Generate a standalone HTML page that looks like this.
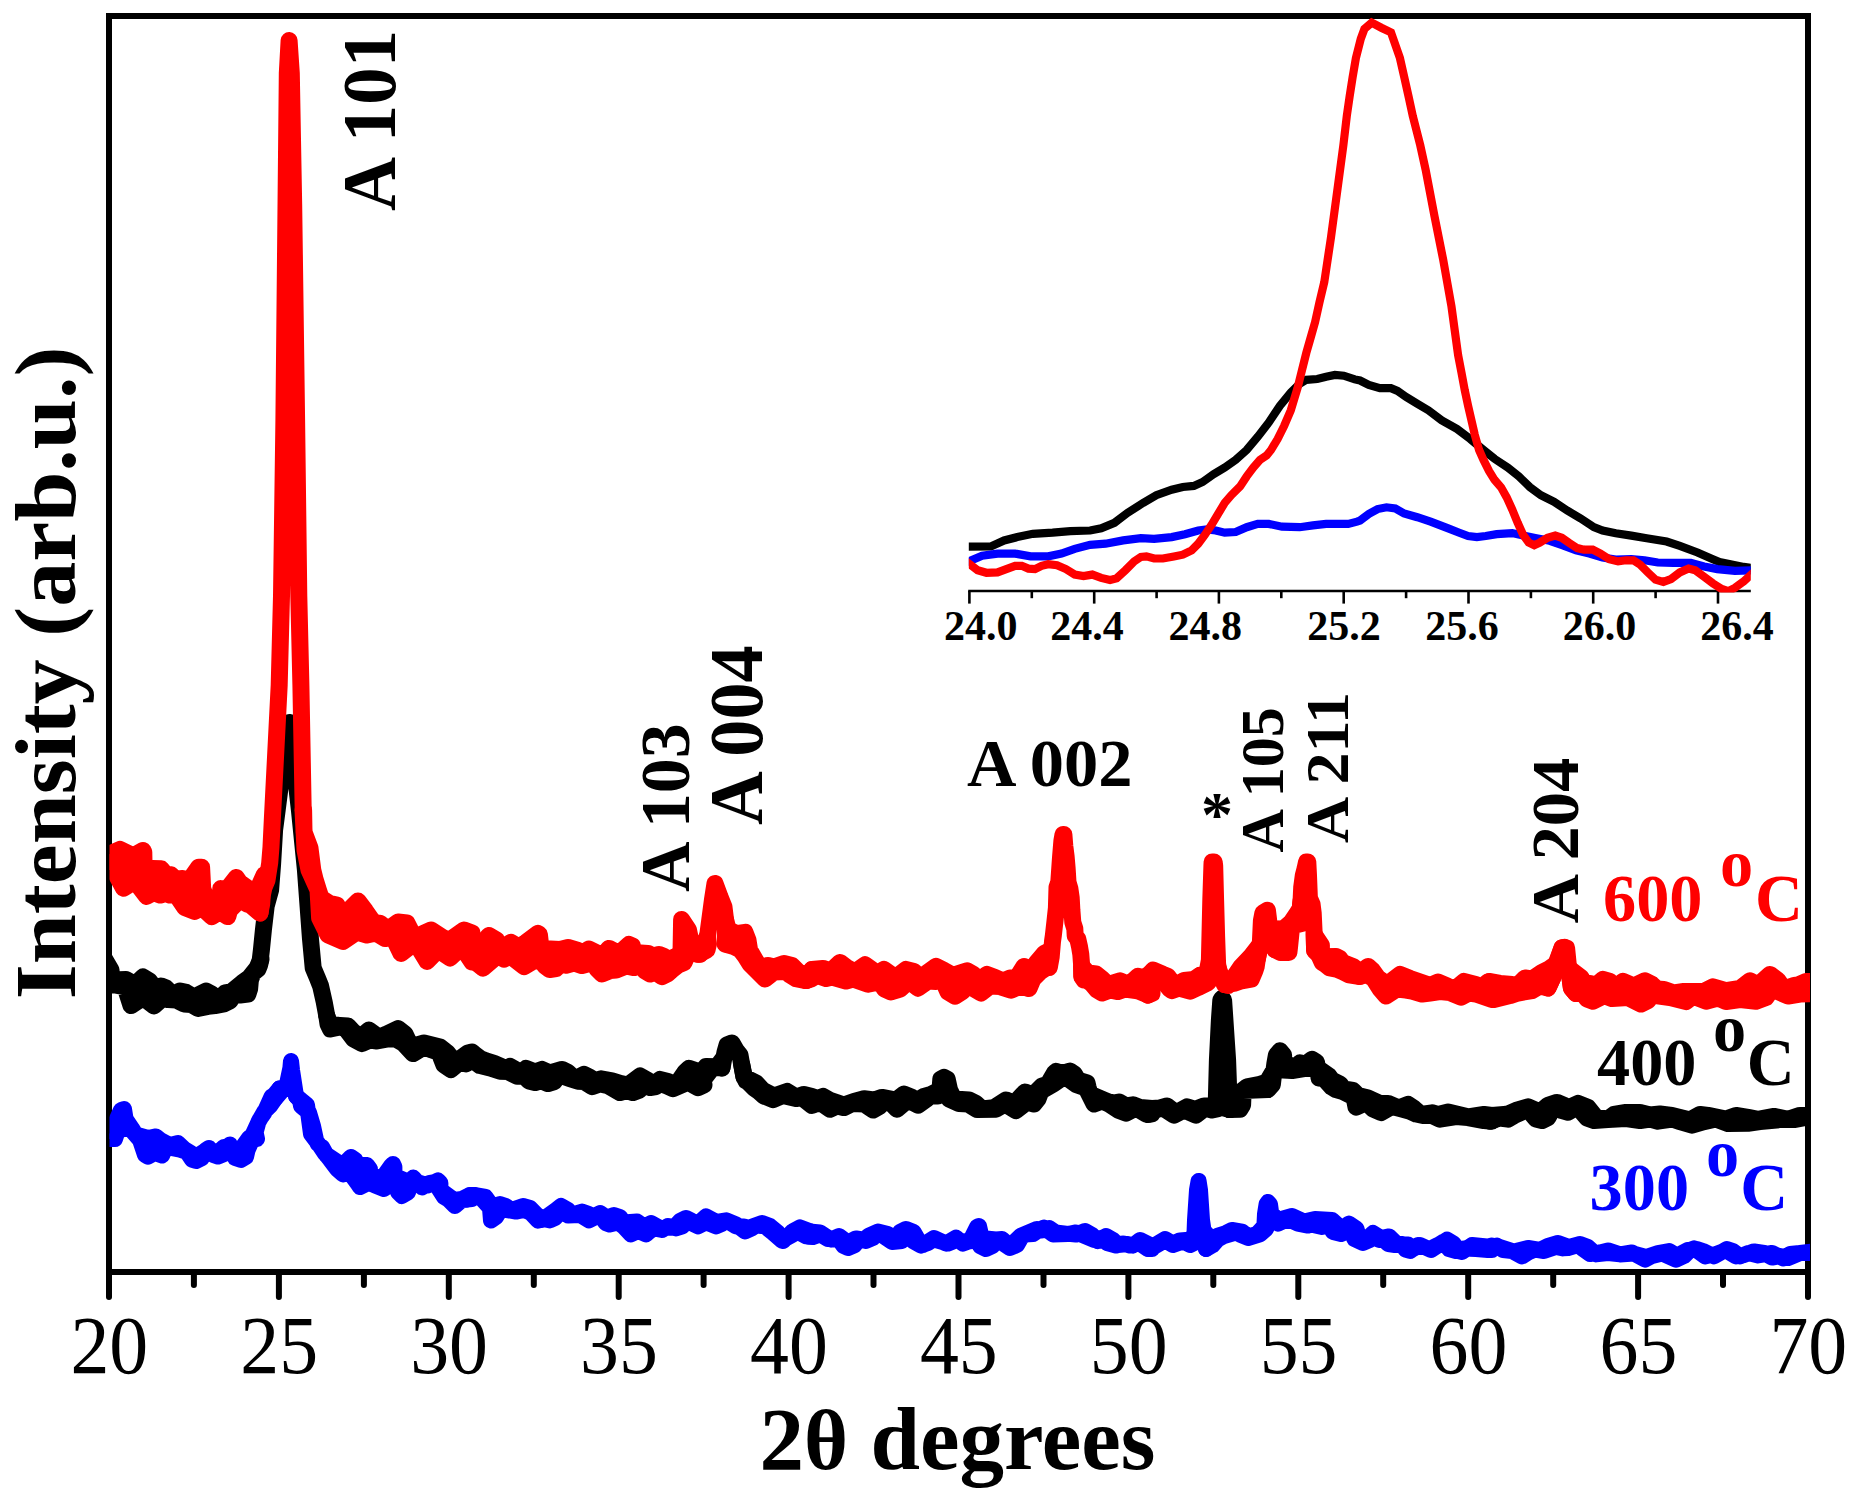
<!DOCTYPE html>
<html><head><meta charset="utf-8"><title>XRD</title>
<style>html,body{margin:0;padding:0;background:#fff;overflow:hidden}svg{display:block}text{font-family:"Liberation Serif",serif}</style></head><body>
<svg width="1862" height="1510" viewBox="0 0 1862 1510">
<rect width="1862" height="1510" fill="#fff"/>
<defs><clipPath id="cp"><rect x="109.5" y="16" width="1700.5" height="1256"/></clipPath><clipPath id="ci"><rect x="968.8" y="10" width="782" height="582.5"/></clipPath></defs>
<g stroke="#000" stroke-width="6" fill="none" stroke-linecap="butt">
<rect x="109" y="16" width="1699" height="1256"/>
<line x1="109.0" y1="1272" x2="109.0" y2="1297" stroke-linecap="round"/>
<line x1="278.9" y1="1272" x2="278.9" y2="1297" stroke-linecap="round"/>
<line x1="448.8" y1="1272" x2="448.8" y2="1297" stroke-linecap="round"/>
<line x1="618.7" y1="1272" x2="618.7" y2="1297" stroke-linecap="round"/>
<line x1="788.6" y1="1272" x2="788.6" y2="1297" stroke-linecap="round"/>
<line x1="958.5" y1="1272" x2="958.5" y2="1297" stroke-linecap="round"/>
<line x1="1128.4" y1="1272" x2="1128.4" y2="1297" stroke-linecap="round"/>
<line x1="1298.3" y1="1272" x2="1298.3" y2="1297" stroke-linecap="round"/>
<line x1="1468.2" y1="1272" x2="1468.2" y2="1297" stroke-linecap="round"/>
<line x1="1638.1" y1="1272" x2="1638.1" y2="1297" stroke-linecap="round"/>
<line x1="1808.0" y1="1272" x2="1808.0" y2="1297" stroke-linecap="round"/>
<line x1="193.9" y1="1272" x2="193.9" y2="1285" stroke-linecap="round"/>
<line x1="363.9" y1="1272" x2="363.9" y2="1285" stroke-linecap="round"/>
<line x1="533.8" y1="1272" x2="533.8" y2="1285" stroke-linecap="round"/>
<line x1="703.6" y1="1272" x2="703.6" y2="1285" stroke-linecap="round"/>
<line x1="873.5" y1="1272" x2="873.5" y2="1285" stroke-linecap="round"/>
<line x1="1043.5" y1="1272" x2="1043.5" y2="1285" stroke-linecap="round"/>
<line x1="1213.3" y1="1272" x2="1213.3" y2="1285" stroke-linecap="round"/>
<line x1="1383.2" y1="1272" x2="1383.2" y2="1285" stroke-linecap="round"/>
<line x1="1553.2" y1="1272" x2="1553.2" y2="1285" stroke-linecap="round"/>
<line x1="1723.0" y1="1272" x2="1723.0" y2="1285" stroke-linecap="round"/>
</g>
<g clip-path="url(#cp)" stroke="#0000ff" fill="#0000ff" stroke-width="16" stroke-linejoin="round" stroke-linecap="round">
<polygon points="106.0,1138.0 112.0,1130.0 121.0,1110.0 124.0,1109.0 125.6,1119.0 132.0,1128.4 135.6,1134.4 148.0,1138.0 156.0,1136.4 161.0,1140.4 170.0,1145.0 178.0,1143.0 184.4,1149.0 191.0,1153.0 195.4,1157.0 206.0,1150.4 214.0,1151.0 217.4,1153.0 224.0,1147.0 231.0,1150.0 240.0,1150.4 249.0,1138.0 252.0,1136.0 259.6,1119.6 261.6,1116.6 264.4,1112.6 271.6,1096.4 273.6,1095.6 279.6,1088.4 281.0,1092.0 275.4,1098.4 270.0,1106.0 264.4,1111.4 258.4,1122.0 255.6,1132.4 257.0,1139.0 252.0,1140.0 247.6,1150.0 246.0,1157.0 241.0,1160.0 235.0,1158.0 230.0,1144.4 226.4,1148.0 223.6,1154.4 218.0,1156.6 213.0,1155.0 209.0,1148.0 206.0,1150.0 202.0,1158.0 196.0,1161.0 192.0,1159.6 187.0,1152.0 180.0,1149.6 166.0,1147.0 162.0,1155.6 155.0,1153.0 148.0,1156.6 145.0,1155.0 140.0,1140.0 129.6,1128.0 118.0,1130.0 115.0,1139.0 106.0,1139.0"/>
<polyline fill="none" points="275.4,1098.4 279.6,1088.4 286.0,1089.0 290.4,1068.0 291.0,1061.0 292.0,1070.0 296.0,1096.0 300.0,1100.0"/>
<polygon points="296.0,1096.0 307.0,1105.0 308.4,1115.0 311.0,1134.0 320.0,1146.0 325.0,1153.6 337.0,1161.6 343.0,1165.0 351.0,1157.0 355.0,1159.6 353.6,1164.0 367.0,1165.0 370.0,1169.0 369.6,1173.0 381.0,1180.0 391.0,1166.0 393.0,1164.0 394.4,1167.0 394.4,1176.0 410.0,1182.4 420.0,1183.0 428.0,1185.4 438.0,1180.4 440.4,1183.0 440.4,1190.0 454.0,1200.0 462.0,1199.0 470.0,1195.0 474.0,1195.0 472.0,1199.0 462.0,1200.0 455.0,1206.0 449.0,1200.0 444.0,1197.0 434.4,1182.0 429.0,1183.0 422.0,1187.4 413.2,1177.6 410.6,1183.0 408.0,1192.4 402.0,1196.0 398.0,1192.0 393.4,1178.6 390.0,1184.4 384.0,1189.0 374.0,1185.0 368.0,1183.0 360.0,1187.0 358.0,1184.0 350.0,1173.0 343.0,1174.4 337.0,1169.0 330.0,1159.6 327.0,1156.0 322.0,1147.0 317.6,1143.6 316.0,1140.0 313.0,1126.0 309.0,1112.4 304.0,1108.4 301.0,1106.0 300.0,1100.0"/>
<polygon points="470.0,1195.0 474.0,1195.0 485.6,1197.0 492.4,1206.6 500.0,1204.0 506.0,1206.0 510.0,1210.4 523.0,1206.0 530.0,1208.0 535.6,1213.6 542.0,1220.0 556.0,1210.0 561.0,1206.0 568.0,1210.0 572.0,1214.6 582.0,1211.6 589.0,1214.0 593.0,1216.6 600.0,1213.0 607.0,1217.6 614.0,1215.0 620.0,1217.0 623.6,1222.4 637.0,1221.6 644.0,1226.6 651.0,1223.0 660.0,1228.0 674.0,1227.4 680.0,1221.0 686.0,1218.0 692.0,1221.0 698.0,1223.6 706.0,1216.4 713.0,1220.0 717.0,1222.0 726.0,1220.4 732.0,1224.0 736.0,1226.4 744.0,1226.4 748.0,1228.0 762.0,1223.0 770.0,1226.0 777.6,1232.4 783.0,1241.0 793.0,1231.0 800.0,1227.4 812.0,1232.0 812.0,1236.4 808.0,1236.4 800.0,1230.4 792.0,1235.0 782.0,1240.6 772.0,1232.0 765.0,1226.4 756.0,1225.6 751.6,1228.4 745.0,1231.4 736.0,1224.4 726.4,1220.4 722.4,1223.6 716.0,1226.4 706.0,1222.4 698.0,1226.4 687.0,1221.0 682.4,1226.4 676.0,1228.4 668.0,1226.0 662.0,1230.0 654.0,1228.4 650.0,1231.0 646.0,1234.4 638.0,1231.0 631.0,1234.4 624.0,1227.0 618.0,1222.4 609.6,1224.6 605.6,1223.0 600.0,1214.4 595.0,1217.4 589.0,1220.4 580.0,1215.0 568.0,1215.6 561.6,1211.0 555.0,1218.0 550.0,1220.4 543.0,1219.0 538.0,1220.6 531.0,1213.0 524.0,1210.0 516.0,1211.6 501.0,1209.0 496.0,1217.0 491.0,1220.6 490.0,1208.0 481.0,1198.0 476.0,1196.0 466.0,1199.6"/>
<polygon points="812.0,1231.6 820.0,1232.4 831.0,1239.6 839.0,1236.0 848.0,1242.6 856.0,1238.4 864.0,1239.6 869.0,1235.6 878.0,1231.6 888.0,1234.0 894.4,1241.0 900.0,1232.0 906.0,1229.0 913.6,1232.0 917.6,1239.0 923.0,1245.0 934.0,1238.0 946.0,1243.6 956.0,1237.6 963.0,1243.6 970.0,1241.0 977.0,1227.0 979.0,1226.0 980.4,1232.0 981.0,1238.0 996.0,1239.4 1002.0,1239.0 1010.0,1246.0 1021.0,1235.6 1037.0,1229.0 1042.0,1230.4 1049.0,1228.0 1055.6,1232.4 1066.0,1233.6 1076.0,1234.6 1085.0,1231.0 1092.0,1235.0 1098.0,1241.0 1106.0,1236.0 1113.0,1240.0 1118.0,1245.0 1128.0,1244.0 1133.0,1245.6 1140.0,1240.0 1152.0,1246.0 1152.0,1249.0 1148.0,1249.0 1138.0,1242.4 1130.0,1245.6 1123.0,1243.4 1116.0,1245.6 1107.0,1243.0 1103.0,1237.6 1094.0,1240.0 1076.0,1232.4 1068.0,1234.0 1053.0,1234.4 1044.0,1227.6 1040.0,1229.4 1033.0,1234.0 1025.0,1234.6 1021.0,1238.0 1017.0,1245.0 1010.0,1248.0 998.0,1240.0 992.4,1246.0 986.0,1249.0 980.0,1246.0 977.0,1240.0 968.0,1241.6 956.0,1240.4 948.0,1243.6 933.0,1239.4 928.0,1243.0 921.0,1245.6 913.0,1241.0 908.4,1233.6 905.6,1237.0 902.0,1241.0 892.0,1242.0 878.0,1232.4 873.0,1238.0 866.0,1241.0 859.0,1239.4 854.4,1245.4 848.0,1248.0 843.6,1246.0 839.0,1239.6 828.0,1239.0 820.0,1234.4 813.0,1237.0 806.0,1236.4 800.0,1233.0"/>
<polygon points="1150.0,1248.0 1165.0,1239.0 1173.0,1243.6 1180.0,1240.4 1189.0,1239.6 1195.0,1236.0 1199.0,1238.0 1196.0,1242.0 1190.0,1245.0 1183.0,1241.4 1173.0,1245.0 1165.0,1240.4 1157.0,1245.0 1149.0,1249.0"/>
<polyline fill="none" points="1189.0,1239.6 1194.4,1236.0 1195.0,1220.0 1197.0,1190.0 1198.6,1181.0 1200.0,1190.0 1202.0,1220.0 1203.6,1231.0 1206.0,1249.0"/>
<polygon points="1203.6,1231.0 1211.6,1239.0 1218.0,1235.6 1226.0,1233.0 1232.0,1230.0 1242.0,1231.6 1248.0,1236.4 1257.0,1234.0 1264.4,1226.0 1265.0,1214.0 1266.6,1204.0 1268.0,1202.0 1270.0,1204.4 1271.2,1213.0 1278.0,1220.0 1292.0,1216.0 1304.0,1221.6 1315.0,1219.0 1332.0,1220.0 1336.4,1224.0 1340.0,1230.0 1349.0,1223.6 1356.4,1228.6 1358.0,1234.0 1363.0,1242.4 1373.0,1233.0 1381.0,1238.0 1389.0,1236.4 1397.0,1244.0 1408.0,1244.4 1413.0,1249.0 1420.0,1245.0 1431.0,1250.0 1447.0,1239.6 1453.6,1243.6 1458.0,1251.0 1462.0,1252.0 1472.0,1245.0 1492.0,1247.0 1492.0,1250.0 1488.0,1250.0 1476.0,1249.0 1464.0,1248.4 1456.0,1251.0 1449.0,1249.0 1444.0,1241.4 1438.0,1245.0 1430.0,1249.0 1418.0,1245.0 1410.0,1251.0 1405.6,1249.6 1402.0,1244.0 1395.0,1245.0 1388.4,1244.0 1384.0,1240.0 1379.0,1240.0 1373.0,1236.4 1370.0,1240.0 1363.0,1243.0 1354.4,1239.0 1350.4,1229.0 1347.6,1231.4 1341.0,1234.0 1333.0,1232.0 1329.0,1225.6 1322.0,1227.0 1311.0,1224.4 1308.0,1225.6 1298.0,1223.6 1292.0,1221.0 1284.0,1221.0 1278.0,1223.6 1273.0,1220.0 1269.0,1223.0 1266.0,1229.0 1260.0,1234.4 1248.0,1238.0 1240.0,1234.6 1236.4,1231.4 1234.0,1233.0 1223.0,1236.4 1217.6,1239.4 1212.4,1245.4 1206.0,1249.0"/>
<polygon points="1492.0,1245.6 1500.0,1247.0 1514.0,1251.6 1528.0,1248.0 1540.0,1250.0 1548.0,1246.0 1558.0,1243.0 1569.0,1247.0 1580.0,1244.0 1588.0,1247.0 1596.0,1254.4 1608.0,1253.0 1620.0,1254.4 1634.0,1253.6 1646.0,1257.0 1658.0,1253.0 1669.0,1251.0 1677.0,1255.6 1688.0,1250.0 1697.0,1249.0 1703.0,1251.0 1714.0,1256.4 1727.0,1249.0 1733.0,1251.0 1740.0,1256.4 1748.0,1253.0 1758.0,1255.4 1772.0,1253.0 1783.0,1258.4 1790.0,1254.0 1800.0,1253.0 1816.0,1253.0 1816.0,1251.0 1800.0,1253.0 1788.0,1258.0 1780.0,1256.0 1772.0,1257.6 1764.0,1253.0 1754.0,1251.4 1744.0,1255.0 1736.0,1256.4 1726.0,1250.4 1716.0,1254.0 1705.0,1256.4 1694.0,1248.4 1690.0,1250.0 1684.0,1256.0 1676.0,1259.6 1662.0,1253.4 1652.0,1256.0 1645.0,1259.6 1632.0,1252.4 1620.0,1254.4 1608.0,1250.4 1600.0,1252.4 1590.0,1254.0 1583.0,1249.0 1578.0,1245.0 1568.0,1248.0 1563.0,1248.4 1556.0,1247.0 1544.0,1251.0 1535.0,1249.6 1529.0,1252.0 1522.0,1256.4 1512.0,1251.0 1503.0,1250.0 1497.0,1245.6 1489.0,1249.6"/>
</g>
<g clip-path="url(#cp)" stroke="#000000" fill="#000000" stroke-width="17" stroke-linejoin="round" stroke-linecap="round">
<polygon points="104.0,958.0 111.0,970.0 112.0,980.0 126.0,979.6 135.0,984.4 143.0,977.0 149.6,981.0 156.4,990.0 161.0,986.0 166.0,988.0 173.0,995.0 180.0,991.0 186.0,992.4 194.0,997.0 206.0,991.0 211.6,994.0 217.4,1002.0 225.0,993.0 231.0,992.0 242.0,983.0 249.0,978.0 257.0,968.0 261.0,959.0 259.6,965.0 258.0,969.0 253.0,973.0 250.4,980.0 249.6,989.0 248.0,994.0 240.0,995.0 233.6,995.0 230.0,1001.0 224.0,1004.0 215.0,1005.6 208.0,1006.4 198.0,1008.4 191.0,1004.4 184.0,1004.0 176.0,1000.0 168.0,999.6 163.0,998.0 154.0,1006.0 143.0,997.6 131.0,1005.6 125.0,987.0 115.0,985.0 104.0,985.0"/>
<polyline fill="none" points="260.0,962.0 261.4,950.0 263.4,930.0 266.2,906.0 270.6,890.0 272.6,864.0 274.6,830.0 277.2,810.0 281.0,780.0 285.5,750.0 289.3,722.5 293.0,750.0 296.0,780.0 299.4,810.0 301.4,830.0 305.4,870.0 310.4,938.0 313.2,968.0 317.4,978.0 320.6,986.0 324.2,1002.0 326.8,1016.0"/>
<polygon points="326.8,1016.0 330.0,1024.0 340.0,1025.6 348.0,1026.0 353.6,1032.0 360.0,1037.6 369.0,1030.0 379.0,1037.4 386.0,1034.4 398.0,1028.6 405.0,1034.0 411.0,1046.6 424.0,1043.0 440.0,1047.0 447.6,1053.0 455.0,1062.4 468.0,1053.0 472.0,1052.0 472.0,1060.0 466.0,1064.0 460.0,1062.0 451.0,1069.6 444.0,1065.0 439.0,1052.4 432.0,1050.0 424.0,1047.0 413.0,1053.6 403.0,1043.0 396.0,1039.0 388.0,1039.0 377.0,1041.0 370.0,1040.0 362.0,1043.6 353.6,1039.0 346.0,1029.0 340.0,1027.0 330.4,1029.0 328.0,1024.0 326.8,1016.0"/>
<polygon points="472.0,1052.4 480.0,1058.4 486.0,1060.8 494.0,1063.4 506.0,1068.6 510.0,1066.4 517.0,1070.4 520.0,1074.0 526.0,1068.4 535.0,1072.0 542.0,1069.4 550.0,1073.0 562.0,1069.4 568.0,1072.4 575.0,1079.0 584.0,1074.4 590.0,1077.4 595.0,1080.6 601.0,1078.8 612.0,1080.8 620.0,1083.4 628.0,1085.0 640.0,1076.0 648.0,1080.4 652.0,1085.6 660.0,1079.4 668.0,1081.4 676.0,1085.0 685.0,1072.0 689.0,1068.4 695.0,1070.4 700.0,1074.0 706.0,1066.4 717.0,1066.8 722.0,1060.0 722.0,1068.0 713.0,1067.0 703.0,1080.0 704.0,1085.0 698.0,1087.6 693.0,1085.0 689.0,1080.0 684.0,1084.0 673.0,1088.6 667.0,1086.0 662.0,1082.0 656.0,1086.6 650.0,1087.6 643.0,1085.0 639.6,1090.0 633.0,1092.6 627.0,1090.6 620.0,1092.6 608.0,1085.6 600.0,1084.0 592.0,1086.6 584.0,1081.6 578.0,1081.2 570.0,1078.6 565.0,1077.0 560.0,1071.0 554.4,1081.6 548.0,1083.6 541.0,1080.6 535.0,1082.6 529.0,1081.0 524.0,1076.0 517.0,1076.2 508.0,1071.6 500.0,1071.2 490.0,1068.0 480.0,1065.6 472.0,1059.6"/>
<polyline fill="none" points="722.0,1068.0 725.0,1052.0 727.0,1045.0 732.0,1043.0 736.0,1050.0 740.0,1055.0 741.6,1064.0 744.0,1077.0"/>
<polygon points="741.6,1064.0 744.0,1077.0 756.0,1082.8 759.0,1086.0 763.0,1090.4 774.0,1096.0 787.0,1091.4 796.0,1097.0 804.0,1094.4 812.0,1096.4 812.0,1105.6 807.0,1101.6 802.0,1097.6 796.0,1098.6 783.0,1095.4 773.0,1099.6 764.0,1096.0 759.0,1091.6 754.0,1088.0 748.0,1082.0 746.0,1081.0 744.4,1077.0"/>
<polygon points="812.0,1097.4 816.0,1099.0 823.0,1096.4 830.0,1100.4 844.0,1105.0 854.0,1101.4 864.0,1098.8 874.0,1100.0 882.0,1097.4 892.0,1099.4 895.0,1101.0 904.0,1094.0 912.0,1097.4 916.0,1101.0 924.0,1096.4 931.0,1094.4 940.0,1090.0 940.8,1079.0 944.0,1077.4 947.2,1079.0 949.6,1090.0 954.0,1099.0 969.0,1100.0 976.0,1103.4 982.0,1109.0 994.0,1107.6 1006.0,1100.0 1014.4,1103.4 1025.0,1092.0 1033.0,1095.0 1042.0,1086.0 1048.0,1084.0 1054.4,1073.0 1056.0,1071.4 1062.4,1073.4 1070.0,1071.0 1074.4,1074.0 1078.0,1080.0 1087.0,1082.8 1088.0,1087.0 1090.0,1094.0 1104.0,1100.0 1112.0,1103.4 1119.0,1102.0 1126.0,1106.0 1133.0,1104.8 1140.0,1107.4 1152.0,1108.4 1152.0,1114.0 1146.0,1114.0 1136.0,1108.0 1126.0,1113.2 1118.0,1110.0 1110.0,1104.6 1102.0,1101.0 1094.0,1104.0 1092.0,1100.0 1086.0,1088.0 1076.0,1084.4 1068.0,1078.6 1062.0,1078.0 1054.0,1083.6 1041.0,1091.0 1038.0,1099.0 1034.0,1104.0 1027.0,1102.0 1016.0,1110.6 1005.0,1104.0 996.0,1109.2 977.0,1109.6 968.0,1104.0 959.0,1103.6 949.0,1099.0 944.0,1090.6 938.0,1096.0 930.0,1096.0 926.0,1099.6 918.0,1105.2 908.0,1100.0 904.4,1103.0 897.0,1109.2 886.0,1098.0 880.0,1106.0 873.0,1110.0 864.0,1104.0 852.0,1103.6 844.0,1107.6 837.0,1106.0 830.0,1109.2 821.0,1103.0 813.0,1104.6"/>
<polygon points="1152.0,1108.4 1160.0,1108.0 1167.0,1106.0 1176.0,1113.0 1187.0,1106.8 1195.0,1109.4 1204.0,1106.0 1216.4,1106.0 1230.0,1109.6 1222.0,1103.6 1218.0,1108.6 1212.0,1110.0 1205.0,1108.0 1196.0,1115.2 1184.0,1110.0 1174.0,1115.2 1164.0,1108.6 1157.0,1109.0 1148.0,1114.6"/>
<polyline fill="none" points="1216.4,1106.0 1216.4,1097.0 1217.4,1060.0 1219.4,1020.0 1220.8,1000.0 1222.0,998.4 1223.6,1000.0 1225.6,1030.0 1227.6,1060.0 1228.6,1088.0 1229.6,1109.6"/>
<polygon points="1228.6,1088.0 1232.0,1098.0 1240.0,1092.4 1247.0,1086.8 1260.0,1084.4 1267.0,1082.0 1274.0,1070.0 1274.8,1064.0 1276.4,1055.0 1280.0,1050.8 1283.6,1055.0 1283.6,1060.0 1292.4,1069.6 1300.0,1062.8 1305.0,1064.6 1312.0,1059.4 1316.4,1062.0 1317.6,1068.0 1329.0,1076.0 1332.0,1080.0 1340.0,1084.0 1343.6,1089.0 1353.0,1090.4 1358.0,1095.4 1368.0,1098.0 1380.0,1103.4 1388.0,1103.4 1399.0,1108.0 1408.0,1104.4 1414.0,1108.4 1421.0,1114.4 1432.0,1112.8 1438.0,1114.4 1448.0,1112.0 1468.0,1116.8 1484.0,1114.4 1492.0,1115.4 1492.0,1121.2 1484.0,1120.6 1468.0,1117.6 1456.0,1116.6 1440.0,1119.2 1432.0,1115.6 1424.0,1115.6 1416.0,1114.0 1410.0,1111.2 1400.0,1108.6 1392.0,1106.6 1388.0,1108.6 1381.0,1112.6 1373.0,1109.0 1366.0,1102.0 1361.0,1105.0 1356.0,1107.2 1354.0,1097.0 1343.0,1091.6 1336.0,1089.6 1331.6,1087.0 1324.0,1078.6 1319.0,1078.0 1318.0,1068.2 1304.0,1068.6 1292.0,1070.6 1274.0,1069.6 1273.0,1079.0 1272.4,1084.4 1268.0,1089.6 1243.2,1090.6 1242.6,1105.0 1240.0,1109.2 1229.6,1109.6"/>
<polygon points="1492.0,1115.4 1504.0,1114.4 1508.0,1114.0 1516.0,1110.4 1528.0,1106.8 1540.0,1112.0 1548.0,1105.4 1557.0,1102.4 1564.0,1105.4 1568.0,1108.0 1578.0,1103.4 1588.0,1107.4 1596.0,1117.6 1608.0,1119.0 1614.0,1114.4 1626.0,1112.4 1640.0,1112.4 1650.0,1115.0 1660.0,1114.0 1672.0,1115.4 1680.0,1117.4 1690.0,1120.0 1700.0,1114.4 1708.0,1115.4 1726.0,1119.0 1736.0,1115.4 1748.0,1117.4 1758.0,1119.4 1774.0,1116.4 1788.0,1119.4 1800.0,1115.4 1816.0,1115.4 1816.0,1115.6 1794.0,1119.6 1780.0,1119.6 1760.0,1121.6 1748.0,1123.2 1728.0,1123.6 1716.0,1119.0 1704.0,1121.6 1692.0,1125.2 1680.0,1121.6 1672.0,1119.0 1658.0,1121.2 1650.0,1119.0 1640.0,1120.6 1626.0,1118.6 1608.0,1119.6 1594.0,1120.6 1587.0,1118.0 1581.0,1111.0 1577.0,1106.0 1574.0,1108.6 1568.0,1112.2 1562.0,1110.6 1555.0,1106.0 1551.0,1112.0 1548.0,1117.6 1542.0,1120.6 1536.0,1119.0 1529.0,1110.6 1526.0,1110.0 1514.0,1115.6 1508.0,1119.2 1500.0,1118.0 1490.0,1121.2"/>
</g>
<g clip-path="url(#cp)" stroke="#ff0000" fill="#ff0000" stroke-width="17" stroke-linejoin="round" stroke-linecap="round">
<polygon points="104.3,856.5 119.9,849.4 133.3,856.0 143.0,850.5 143.8,852.2 144.1,868.2 161.2,868.8 165.5,874.1 170.9,874.7 175.2,879.1 182.7,878.4 189.2,880.7 198.7,867.2 201.6,867.2 202.7,888.7 211.7,912.4 221.8,888.7 220.8,888.6 226.7,889.7 236.3,877.4 239.6,882.3 250.9,890.4 257.9,888.7 264.2,874.8 260.0,913.0 257.9,911.3 250.4,905.0 247.2,904.1 239.6,900.0 229.5,910.2 227.8,916.6 219.8,911.8 211.7,916.6 202.0,907.5 194.5,911.4 184.9,907.6 175.7,894.2 169.8,895.1 165.5,893.4 160.2,895.1 153.7,892.5 146.6,896.4 137.6,884.6 133.5,882.1 123.5,888.3 114.0,870.6 104.3,869.5"/>
<polyline fill="none" points="260.0,913.0 261.7,903.8 262.3,895.2 263.9,887.7 267.0,880.2 269.7,863.0 271.0,846.9 272.3,820.0 279.2,685.0 281.5,596.0 283.9,420.0 286.0,205.0 287.3,73.0 289.1,40.5 291.3,73.0 293.7,205.0 296.6,420.0 298.8,596.0 300.9,685.0 303.2,810.0"/>
<polygon points="303.6,810.0 304.0,832.0 310.0,848.0 312.8,870.0 315.0,879.0 318.4,890.0 321.0,898.0 330.0,903.6 337.0,905.0 342.0,917.0 358.0,901.0 365.6,911.0 374.4,923.6 380.0,923.2 388.0,929.4 398.0,922.0 407.0,923.0 414.4,937.6 431.0,930.0 446.0,939.6 452.0,938.4 464.0,930.0 472.0,933.0 472.0,962.0 462.0,947.0 450.0,958.0 438.0,950.0 427.0,961.4 418.0,946.6 412.0,945.0 401.0,953.4 393.0,937.0 385.0,938.6 376.0,933.0 367.0,935.0 357.0,932.0 343.0,941.4 328.0,935.0 319.6,918.0 318.0,890.0 309.0,870.0 305.0,850.0 303.0,810.0"/>
<polygon points="472.0,936.4 479.0,946.4 489.0,935.4 496.6,940.0 500.0,949.0 511.0,942.4 519.0,947.0 526.0,942.4 538.0,933.4 539.4,934.4 541.0,948.4 560.0,949.4 568.0,947.4 578.0,950.4 582.4,953.2 589.0,949.0 595.6,952.4 600.4,958.4 609.0,948.4 619.0,953.6 629.0,944.4 632.4,946.0 633.4,952.4 648.0,953.4 653.0,956.0 659.0,954.4 664.0,956.4 668.0,960.0 681.0,954.0 690.4,939.0 698.0,954.2 707.6,936.0 708.4,944.0 707.0,950.0 699.0,954.2 689.0,950.0 686.0,958.0 684.0,962.6 678.0,965.0 673.0,969.0 668.0,973.6 662.0,976.6 655.0,972.0 650.0,974.0 645.0,971.0 641.0,964.0 634.0,967.6 626.0,966.0 616.0,970.0 610.0,970.6 602.0,974.0 597.0,969.0 593.0,960.0 589.6,963.6 582.0,965.6 574.0,963.0 566.0,965.2 560.0,964.0 556.0,968.6 549.6,969.6 545.0,966.0 540.0,959.6 534.0,960.6 524.0,966.6 515.0,959.6 511.0,955.0 504.0,959.2 495.0,954.0 492.4,960.0 483.0,968.2 470.0,957.6"/>
<polyline fill="none" points="681.0,954.0 681.6,919.4 688.4,929.6 690.4,939.0 697.0,954.2 700.0,954.2 707.6,936.0 712.4,900.0 715.0,883.4 720.0,897.0 724.0,907.0 725.6,920.0 725.6,944.0"/>
<polygon points="725.6,920.0 728.0,929.0 736.0,933.6 745.0,932.4 748.0,940.0 749.6,950.0 760.0,968.0 768.0,965.4 774.0,967.0 784.0,963.4 792.0,965.4 799.0,972.4 807.0,975.0 812.0,969.4 812.0,978.6 806.0,980.6 796.0,978.6 790.0,975.0 786.0,971.6 774.0,972.0 765.0,979.0 757.0,971.0 750.0,964.0 745.0,956.0 740.0,949.6 734.0,946.6 725.0,944.0 725.6,940.0"/>
<polygon points="812.0,969.4 823.0,968.4 831.0,971.0 840.0,962.4 847.6,968.0 855.0,972.0 865.0,964.8 872.4,970.0 876.0,974.0 884.0,969.4 891.0,974.4 895.0,978.0 906.0,969.4 914.0,971.4 920.0,978.0 936.0,966.4 944.0,970.4 953.0,975.4 967.0,970.8 973.6,974.4 978.0,981.0 987.0,974.4 995.0,977.4 1003.0,981.0 1010.0,978.0 1016.0,979.0 1024.0,966.4 1031.0,970.4 1037.0,962.0 1044.4,953.4 1051.0,950.0 1049.0,966.0 1040.0,972.0 1033.0,979.0 1029.0,988.6 1021.0,986.0 1011.0,990.2 1000.0,986.6 990.0,986.0 981.0,993.0 972.0,987.6 965.0,986.0 962.4,991.6 955.0,996.2 948.0,992.0 943.6,982.0 940.0,978.0 936.0,981.4 928.0,981.0 918.0,988.2 909.0,981.0 900.0,989.2 891.0,992.0 884.4,989.0 880.0,981.6 868.0,984.2 853.0,979.0 846.0,981.0 832.0,977.0 826.0,978.6 816.0,975.0 812.0,977.6 806.0,980.6"/>
<polyline fill="none" points="1049.3,967.4 1051.2,957.0 1052.5,941.5 1053.4,935.1 1055.0,920.9 1056.4,908.0 1057.0,887.3 1058.8,882.1 1059.6,870.5 1060.5,857.6 1061.9,840.8 1063.0,834.6 1063.9,834.6 1064.8,846.0 1066.1,856.3 1067.1,867.9 1068.0,882.1 1069.9,888.6 1071.2,897.6 1071.9,910.5 1072.8,922.2 1074.8,928.6 1075.2,935.7 1077.8,939.0 1079.5,946.7 1080.8,954.4 1081.6,964.8 1081.8,976.4"/>
<polygon points="1081.6,966.0 1088.0,973.0 1096.0,974.0 1101.6,978.4 1108.0,984.6 1120.0,980.8 1129.0,984.6 1138.0,976.4 1145.0,978.0 1152.0,971.4 1152.0,993.6 1148.0,995.0 1140.0,991.6 1136.0,990.6 1125.0,989.0 1118.0,991.6 1110.0,990.0 1102.0,993.0 1097.0,990.0 1092.0,984.0 1086.0,979.6 1084.0,980.0 1082.0,977.0"/>
<polygon points="1153.0,970.0 1163.0,974.4 1168.0,976.4 1175.0,986.0 1184.0,980.4 1194.0,979.4 1200.0,975.4 1206.0,978.0 1208.0,982.6 1198.0,987.6 1190.0,991.2 1179.0,988.0 1172.0,990.6 1169.6,989.0 1160.0,977.0 1150.0,988.0 1148.0,995.2"/>
<polyline fill="none" points="1200.0,975.4 1206.0,978.0 1209.4,960.0 1210.8,900.0 1211.9,866.0 1212.1,862.0 1214.2,862.0 1214.7,866.0 1215.6,900.0 1216.6,936.0 1217.6,964.0 1220.0,978.0 1228.0,985.6"/>
<polygon points="1217.6,966.7 1219.1,978.8 1233.0,978.6 1241.1,966.6 1250.8,956.5 1260.3,944.2 1257.3,959.2 1256.2,966.7 1255.0,970.4 1251.3,979.2 1241.6,980.8 1235.2,983.0 1224.4,984.6"/>
<polyline fill="none" points="1257.3,959.2 1260.3,944.2 1261.4,920.6 1262.9,913.0 1267.4,910.2 1267.9,914.1 1268.6,919.5 1268.6,928.8 1271.7,942.0 1274.9,949.7"/>
<polygon points="1268.6,928.8 1283.5,929.0 1291.1,922.3 1296.0,915.2 1300.2,908.7 1301.1,900.2 1304.5,922.8 1291.7,925.9 1290.6,936.7 1289.5,947.4 1288.9,952.4 1280.3,952.4 1274.9,949.7"/>
<polyline fill="none" points="1300.2,908.7 1301.1,900.2 1301.7,887.3 1303.3,875.4 1305.0,869.0 1306.5,862.0 1307.8,861.9 1308.5,875.4 1309.4,898.0 1312.1,904.4 1313.2,913.0 1314.2,934.5 1314.6,950.6 1318.5,954.3"/>
<polygon points="1314.2,934.5 1321.4,945.2 1321.4,956.8 1336.2,956.4 1339.6,958.2 1342.6,962.4 1353.3,966.6 1360.0,972.0 1360.0,976.5 1349.0,974.9 1342.6,971.7 1336.2,969.0 1329.7,967.9 1325.4,964.6 1322.2,962.4 1318.5,954.3 1314.6,950.6"/>
<polygon points="1359.4,973.0 1368.0,966.4 1372.4,970.4 1378.0,978.0 1387.0,984.4 1400.0,974.4 1410.0,978.4 1426.0,984.0 1431.0,985.0 1438.0,982.0 1448.0,986.4 1455.0,989.0 1464.0,981.4 1475.6,984.4 1480.4,988.0 1488.0,982.0 1492.0,982.4 1492.0,999.6 1476.0,994.0 1469.0,993.0 1461.0,997.2 1450.0,992.6 1440.0,991.6 1430.0,993.0 1422.0,994.0 1412.0,991.0 1406.0,990.0 1397.0,989.0 1392.4,992.0 1386.0,996.0 1380.0,989.0 1373.0,978.0 1366.0,974.6 1360.0,976.4"/>
<polygon points="1489.0,981.4 1500.0,983.4 1512.0,984.4 1517.0,986.0 1525.0,978.0 1532.0,979.0 1542.0,972.4 1549.0,969.0 1556.0,964.0 1561.6,949.0 1564.0,947.4 1562.0,948.0 1558.0,960.0 1552.6,978.0 1548.0,988.0 1540.0,986.0 1532.0,990.6 1518.0,993.0 1510.0,995.6 1494.0,999.6"/>
<polyline fill="none" points="1548.0,988.0 1552.6,978.0 1558.0,960.0 1562.0,948.0 1564.0,947.4 1566.6,948.0 1568.6,968.0 1571.4,988.0 1576.0,993.6"/>
<polygon points="1568.6,968.0 1581.0,977.4 1585.0,985.0 1590.0,983.4 1595.0,986.0 1603.0,979.4 1610.0,981.4 1615.0,988.0 1623.0,981.4 1634.0,986.0 1645.0,980.8 1652.0,984.4 1657.0,989.0 1664.0,989.4 1674.0,993.0 1684.0,991.4 1704.0,991.4 1713.0,986.8 1726.0,990.6 1740.0,988.4 1750.0,980.8 1758.0,985.0 1770.0,974.4 1777.6,980.0 1784.0,989.0 1794.0,985.4 1798.0,985.0 1806.0,981.4 1816.0,981.4 1816.0,993.6 1800.0,994.0 1788.0,996.0 1772.0,989.0 1766.0,997.6 1756.0,1001.2 1740.0,999.6 1726.0,1001.6 1718.0,998.0 1706.0,1001.2 1693.0,996.0 1686.0,1001.6 1678.0,999.6 1670.0,997.6 1652.0,995.0 1648.0,1000.6 1641.0,1004.0 1628.0,997.6 1612.0,998.6 1603.0,995.0 1600.0,997.6 1593.0,1001.2 1587.0,999.0 1582.0,992.0 1578.0,993.6 1576.0,993.6 1571.4,988.0"/>
</g>
<g stroke="#000" stroke-width="2.6" fill="none">
<line x1="968.2" y1="591" x2="1750.8" y2="591"/>
<line x1="969.4" y1="591" x2="969.4" y2="603.6"/>
<line x1="1031.8" y1="591" x2="1031.8" y2="598.2"/>
<line x1="1094.2" y1="591" x2="1094.2" y2="603.6"/>
<line x1="1156.6" y1="591" x2="1156.6" y2="598.2"/>
<line x1="1218.9" y1="591" x2="1218.9" y2="603.6"/>
<line x1="1281.3" y1="591" x2="1281.3" y2="598.2"/>
<line x1="1343.7" y1="591" x2="1343.7" y2="603.6"/>
<line x1="1406.1" y1="591" x2="1406.1" y2="598.2"/>
<line x1="1468.5" y1="591" x2="1468.5" y2="603.6"/>
<line x1="1530.9" y1="591" x2="1530.9" y2="598.2"/>
<line x1="1593.2" y1="591" x2="1593.2" y2="603.6"/>
<line x1="1655.6" y1="591" x2="1655.6" y2="598.2"/>
<line x1="1718.0" y1="591" x2="1718.0" y2="603.6"/>
</g>
<polyline clip-path="url(#ci)" points="964.4,546.6 990.9,546.4 1004.1,540.4 1017.3,537.1 1032.8,533.8 1052.6,532.7 1070.3,531.1 1090.1,530.5 1101.2,528.3 1114.4,522.8 1127.6,512.8 1143.1,502.9 1156.3,495.2 1171.7,489.7 1182.8,487.0 1193.8,485.9 1202.6,482.0 1213.6,474.2 1224.7,467.6 1235.7,459.9 1246.7,450.0 1257.8,436.7 1268.8,422.4 1279.8,405.9 1290.8,392.6 1299.7,383.8 1306.3,379.8 1317.3,379.0 1326.1,376.8 1334.9,375.0 1343.8,375.7 1354.8,379.4 1360.0,380.5 1368.8,384.9 1379.9,388.2 1390.9,388.2 1397.5,390.9 1406.3,397.0 1417.3,403.7 1428.4,410.3 1441.6,420.2 1457.0,429.0 1470.3,439.0 1483.5,450.0 1494.5,458.8 1507.8,467.6 1518.8,476.4 1529.8,487.0 1540.9,495.2 1554.1,501.8 1567.3,510.6 1580.6,518.4 1593.8,527.2 1602.6,530.5 1615.8,533.3 1631.3,535.6 1646.7,538.2 1666.6,541.5 1679.8,545.9 1697.5,552.5 1712.9,559.2 1719.5,562.0 1730.5,564.2 1743.8,566.9 1757.0,568.6" fill="none" stroke="#000000" stroke-width="8.2" stroke-linejoin="miter" stroke-miterlimit="3" stroke-linecap="butt"/>
<polyline clip-path="url(#ci)" points="964.4,562.9 968.8,561.4 982.1,555.8 997.5,553.6 1015.1,553.6 1030.6,556.3 1048.2,556.3 1061.5,553.6 1074.7,548.8 1090.1,544.8 1105.6,543.7 1123.2,540.4 1140.9,538.2 1154.1,538.9 1171.7,537.1 1185.0,534.2 1198.2,530.5 1207.0,529.4 1215.8,530.5 1224.7,532.7 1235.7,532.0 1246.7,527.2 1257.8,523.9 1268.8,523.9 1282.0,526.7 1299.7,527.2 1312.9,525.4 1326.1,523.9 1339.4,523.9 1348.2,523.9 1357.0,521.7 1360.0,520.6 1368.8,513.9 1377.6,509.1 1386.5,507.3 1395.3,508.4 1404.1,513.5 1417.3,517.2 1430.6,521.7 1448.2,528.3 1459.3,532.7 1468.1,536.0 1476.9,537.1 1485.7,536.0 1496.7,534.2 1512.2,533.1 1523.2,535.6 1536.4,538.2 1549.7,540.8 1562.9,545.3 1576.1,550.3 1589.4,553.6 1602.6,557.6 1615.8,559.6 1631.3,559.2 1644.5,560.3 1657.8,562.5 1673.2,562.9 1690.8,562.9 1704.1,566.4 1717.3,569.1 1734.9,570.8 1757.0,570.2" fill="none" stroke="#0000ff" stroke-width="8.2" stroke-linejoin="miter" stroke-miterlimit="3" stroke-linecap="butt"/>
<polyline clip-path="url(#ci)" points="964.4,560.3 968.8,563.6 977.6,570.2 986.5,572.8 997.5,572.4 1006.3,569.1 1015.1,565.8 1021.8,565.8 1028.4,568.6 1035.0,569.1 1041.6,565.8 1048.2,564.2 1057.0,565.3 1065.9,569.1 1074.7,574.6 1083.5,576.1 1092.3,574.6 1101.2,577.9 1110.0,580.1 1116.6,578.3 1125.4,570.2 1134.2,561.4 1140.9,556.9 1146.4,556.3 1154.1,558.5 1162.9,558.5 1173.9,556.5 1182.8,554.7 1191.6,550.3 1198.2,543.7 1204.8,534.9 1211.4,525.0 1218.1,513.9 1224.7,502.9 1231.3,495.2 1240.1,486.4 1246.7,476.4 1253.3,467.6 1260.0,459.9 1266.6,455.5 1271.0,450.0 1277.6,439.0 1284.2,425.7 1290.8,410.3 1297.5,388.2 1301.9,370.6 1306.3,352.9 1310.7,337.5 1315.1,322.1 1319.5,302.2 1324.3,282.0 1330.9,238.0 1337.5,189.0 1343.4,145.0 1346.8,116.0 1349.6,96.7 1352.6,77.3 1355.9,58.0 1360.8,38.7 1364.4,29.0 1371.7,22.7 1381.8,28.0 1391.0,32.4 1399.9,58.0 1404.3,77.3 1408.6,96.7 1412.8,116.0 1420.2,145.0 1425.6,169.6 1434.4,215.8 1443.2,259.8 1451.5,306.6 1454.8,330.9 1458.1,355.1 1461.5,372.8 1464.8,390.4 1468.1,405.9 1471.4,420.2 1474.7,434.5 1479.1,450.0 1483.5,459.9 1489.0,470.9 1494.5,479.8 1501.2,487.5 1506.7,497.4 1512.2,509.5 1517.7,522.8 1523.2,534.9 1528.7,542.6 1534.2,545.3 1539.8,542.6 1547.5,537.8 1555.2,535.6 1561.8,537.8 1569.5,543.1 1577.2,548.1 1583.9,549.7 1592.7,549.7 1600.4,553.6 1609.2,559.2 1618.1,561.4 1625.8,560.3 1633.5,560.3 1640.1,564.7 1647.8,572.4 1655.5,579.7 1663.3,581.9 1671.0,579.0 1679.8,572.4 1688.6,568.6 1695.2,570.2 1704.1,576.8 1712.9,583.4 1721.7,588.9 1728.3,591.1 1734.9,587.8 1743.8,581.2 1757.0,569.5" fill="none" stroke="#ff0000" stroke-width="8.2" stroke-linejoin="miter" stroke-miterlimit="3" stroke-linecap="butt"/>
<text x="980.8" y="640.3" font-size="42" font-weight="bold" text-anchor="middle">24.0</text>
<text x="1087.1" y="640.3" font-size="42" font-weight="bold" text-anchor="middle">24.4</text>
<text x="1205.3" y="640.3" font-size="42" font-weight="bold" text-anchor="middle">24.8</text>
<text x="1344.1" y="640.3" font-size="42" font-weight="bold" text-anchor="middle">25.2</text>
<text x="1462.1" y="640.3" font-size="42" font-weight="bold" text-anchor="middle">25.6</text>
<text x="1599.4" y="640.3" font-size="42" font-weight="bold" text-anchor="middle">26.0</text>
<text x="1737.0" y="640.3" font-size="42" font-weight="bold" text-anchor="middle">26.4</text>
<text transform="translate(109.3,1373) scale(0.955,1)" font-size="81.5" text-anchor="middle">20</text>
<text transform="translate(279.2,1373) scale(0.955,1)" font-size="81.5" text-anchor="middle">25</text>
<text transform="translate(449.1,1373) scale(0.955,1)" font-size="81.5" text-anchor="middle">30</text>
<text transform="translate(619.0,1373) scale(0.955,1)" font-size="81.5" text-anchor="middle">35</text>
<text transform="translate(788.9,1373) scale(0.955,1)" font-size="81.5" text-anchor="middle">40</text>
<text transform="translate(958.8,1373) scale(0.955,1)" font-size="81.5" text-anchor="middle">45</text>
<text transform="translate(1128.7,1373) scale(0.955,1)" font-size="81.5" text-anchor="middle">50</text>
<text transform="translate(1298.6,1373) scale(0.955,1)" font-size="81.5" text-anchor="middle">55</text>
<text transform="translate(1468.5,1373) scale(0.955,1)" font-size="81.5" text-anchor="middle">60</text>
<text transform="translate(1638.4,1373) scale(0.955,1)" font-size="81.5" text-anchor="middle">65</text>
<text transform="translate(1808.3,1373) scale(0.955,1)" font-size="81.5" text-anchor="middle">70</text>
<text x="957.5" y="1469" font-size="89" font-weight="bold" text-anchor="middle">2<tspan font-size="84.5">θ</tspan> degrees</text>
<text transform="translate(74.6,673) rotate(-90) scale(1.035,1)" font-size="87" font-weight="bold" text-anchor="middle">Intensity (arb.u.)</text>
<text transform="translate(395.3,211) rotate(-90) scale(0.974,1)" font-size="77" font-weight="bold">A 101</text>
<text transform="translate(688.6,892) rotate(-90) scale(1.013,1)" font-size="68.9" font-weight="bold">A 103</text>
<text transform="translate(762,825) rotate(-90) scale(0.966,1)" font-size="77" font-weight="bold">A 004</text>
<text transform="translate(1283.3,852.5) rotate(-90) scale(0.996,1)" font-size="60.4" font-weight="bold">A 105</text>
<text transform="translate(1348,843) rotate(-90) scale(1.051,1)" font-size="60.8" font-weight="bold">A 211</text>
<text transform="translate(1578.3,923.5) rotate(-90) scale(1.003,1)" font-size="68.4" font-weight="bold">A 204</text>
<text x="967" y="786" font-size="68.5" font-weight="bold">A 002</text>
<text x="1201" y="836" font-size="64" font-weight="bold">*</text>
<text transform="translate(1603,920.5) scale(0.975,1)" font-size="68" font-weight="bold" fill="#ff0000">600 <tspan dy="-34.5" dx="1">o</tspan><tspan dy="34.5" dx="2">C</tspan></text>
<text transform="translate(1597,1085) scale(0.975,1)" font-size="68" font-weight="bold" fill="#000000">400 <tspan dy="-34.5" dx="0">o</tspan><tspan dy="34.5" dx="0.5">C</tspan></text>
<text transform="translate(1589.6,1210) scale(0.975,1)" font-size="68" font-weight="bold" fill="#0000ff">300 <tspan dy="-34.5" dx="0.5">o</tspan><tspan dy="34.5" dx="1">C</tspan></text>
</svg></body></html>
